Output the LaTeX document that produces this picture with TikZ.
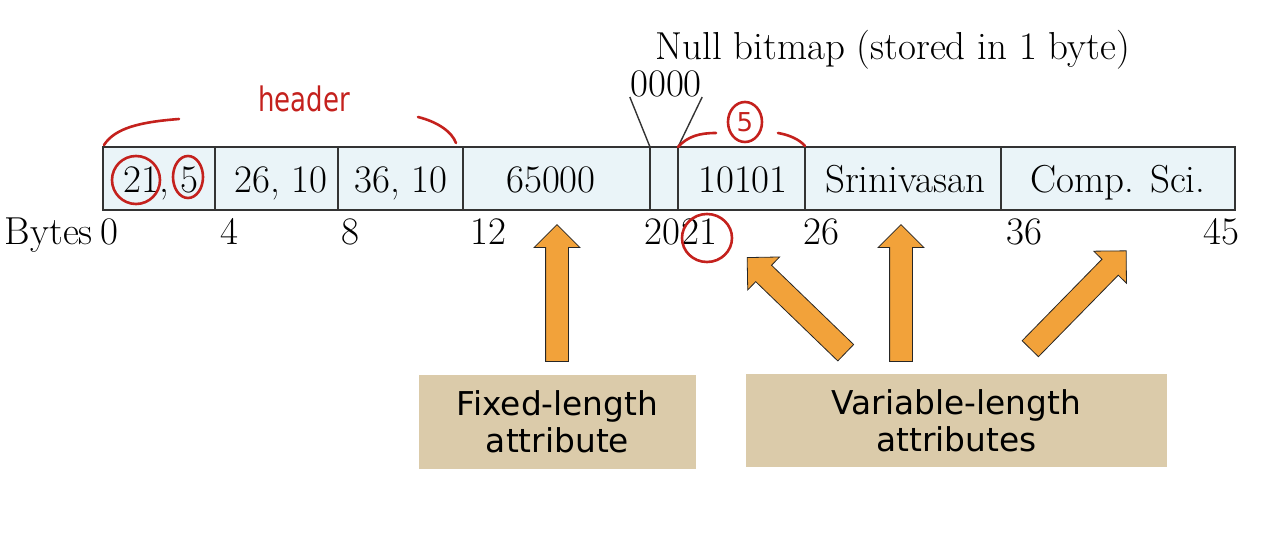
\documentclass[tikz,border=0pt]{standalone}
\usepackage{fontspec}
\usepackage{xcolor}
\usepackage{tikz}
\usetikzlibrary{shapes.arrows}
\usetikzlibrary{positioning}
\newfontfamily\boxfont{DejaVu Sans}
\definecolor{cellblue}{HTML}{EAF4F8}
\definecolor{penred}{HTML}{C4211D}
\definecolor{arroworange}{HTML}{F2A23A}
\definecolor{notetan}{HTML}{DBCBAA}
\tikzset{field/.style={anchor=base, inner sep=0pt, font=\fontsize{19.5}{22}\selectfont}}
\tikzset{offset/.style={inner sep=0pt, font=\fontsize{19.5}{22}\selectfont}}
\tikzset{rule/.style={draw=black!80, line width=1pt}}
\tikzset{redpen/.style={draw=penred, line width=1.3pt, line cap=round, line join=round}}
\tikzset{redtext/.style={text=penred, inner sep=0pt, font=\boxfont\fontsize{13}{13}\selectfont}}
\tikzset{blockarrow/.style={single arrow, draw=black!85, line width=0.4pt, fill=arroworange, inner xsep=0pt, inner ysep=5.5pt, single arrow head extend=5.75pt, minimum height=68.5pt, anchor=tail}}
\tikzset{note/.style={fill=notetan, align=center, font=\boxfont\fontsize{16.4}{18.5}\selectfont}}

\begin{document}
\begin{tikzpicture}[x=0.5pt, y=-0.5pt]
\useasboundingbox (0,0) rectangle (1280,555);
\draw[rule, fill=cellblue] (103,147) rectangle (1235,210);
\foreach \x in {215,338,463,650,678,805,1001}
  \draw[rule] (\x,147) -- (\x,210);
\coordinate (d20) at (650,147);
\coordinate (d21) at (678,147);

\node[field] (f0) at (161,193) {21, 5};
\node[field] (f1) at (281,193) {26, 10};
\node[field] (f2) at (401,193) {36, 10};
\node[field] (f3) at (551,193) {65000};
\node[field] (f5) at (743,193) {10101};
\node[field] (f6) at (905,193) {Srinivasan};
\node[field] (f7) at (1118,193) {Comp. Sci.};

\node[offset, anchor=base east] (b0) at (119,245) {Bytes\hspace{-2pt} 0};
\node[offset, anchor=base west] (b4) at (220,245) {4};
\node[offset, anchor=base west] (b8) at (341,245) {8};
\node[offset, anchor=base west] (b12) at (470,245) {12};
\node[offset, anchor=base east] (b20) at (681,245) {20};
\node[offset, anchor=base west] (b21) at (681,245) {21};
\node[offset, anchor=base west] (b26) at (803,245) {26};
\node[offset, anchor=base west] (b36) at (1006,245) {36};
\node[offset, anchor=base east] (b45) at (1240,245) {45};

\node[offset, anchor=base west] (nb) at (655,60) {Null bitmap (stored in 1 byte)};
\node[offset, anchor=base] (bits) at (666,97) {0000};
\draw[draw=black!80, line width=0.7pt] (bits.base west) -- (d20);
\draw[draw=black!80, line width=0.7pt] (bits.base east) -- (d21);

\node[note, minimum width=138.5pt, minimum height=47pt] (fixed) at (557.5,422) {Fixed-length\\attribute};
\node[note, minimum width=210.5pt, minimum height=46.5pt] (var) at (956.5,420.5) {Variable-length\\attributes};
\node[blockarrow, rotate=90] (a1) at (557,362) {};
\node[blockarrow, rotate=136] (a2) at (846,353) {};
\node[blockarrow, rotate=90] (a3) at (901,362) {};
\node[blockarrow, rotate=45.6] (a4) at (1030,349) {};

\node[redtext, yscale=1.3] (hdr) at (304,99) {header};
\draw[redpen] (104,145) .. controls (115,128) and (140,122) .. (179,119);
\draw[redpen] (418,117) .. controls (438,122) and (452,132) .. (456,143);
\draw[redpen] (136,180) ellipse [x radius=12pt, y radius=12pt];
\draw[redpen] (188,177) ellipse [x radius=7.5pt, y radius=10.5pt];
\node[redtext] (five) at (745,122) {5};
\draw[redpen] (745,122) ellipse [x radius=8.5pt, y radius=10pt];
\draw[redpen] (678,147) .. controls (688,136) and (700,133) .. (716,133);
\draw[redpen] (778,133) .. controls (790,135) and (800,140) .. (805,146);
\draw[redpen] (707,238) ellipse [x radius=12.5pt, y radius=12pt];
\end{tikzpicture}
\end{document}
